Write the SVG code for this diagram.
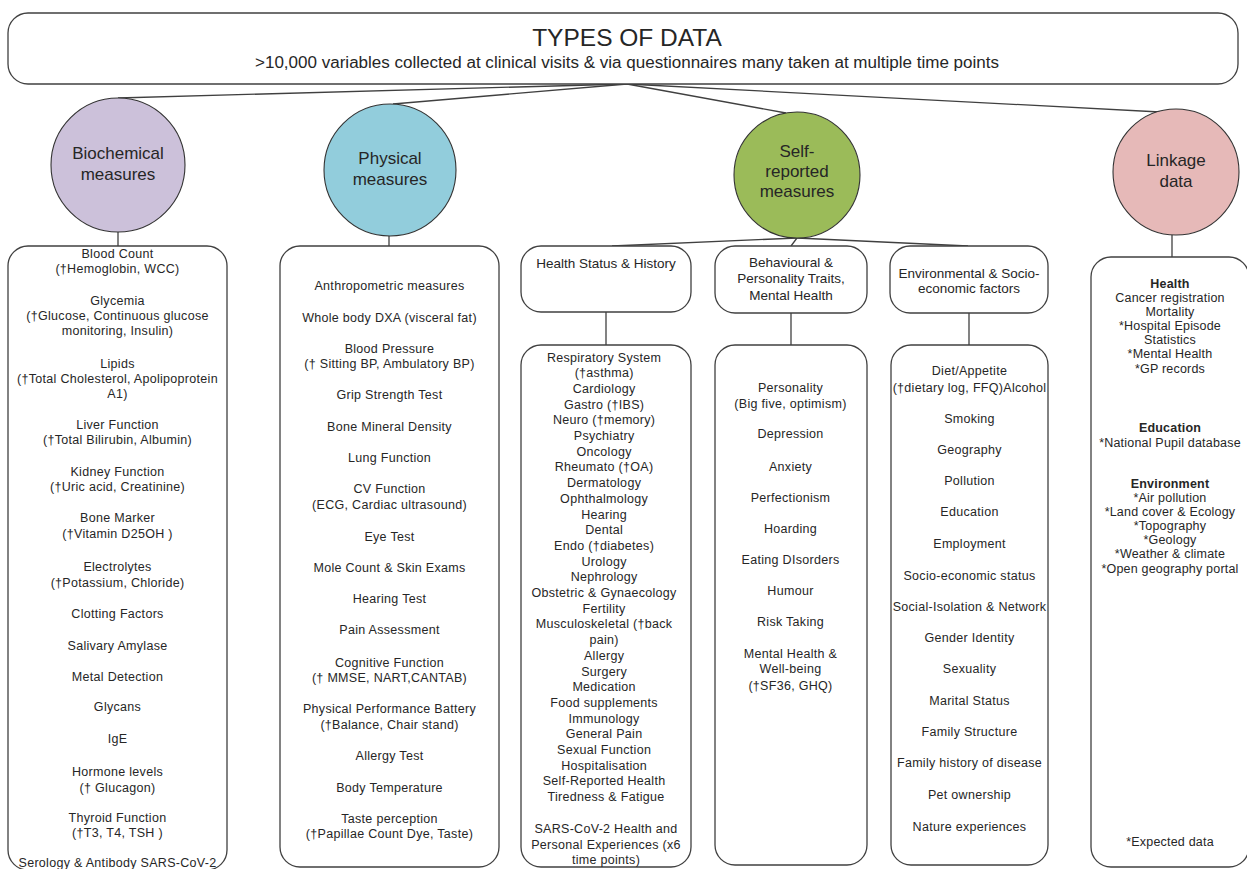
<svg xmlns="http://www.w3.org/2000/svg" width="1247" height="869" viewBox="0 0 1247 869">
<style>
text{font-family:"Liberation Sans",Arial,sans-serif;fill:#262626;text-anchor:middle}
.box{fill:#fff;stroke:#404040;stroke-width:1.3}
.circ{stroke:#333;stroke-width:1.1}
.con line{stroke:#404040;stroke-width:1.3}
.it{font-size:12.5px;letter-spacing:0.3px}
.lk{font-size:12.5px;letter-spacing:0.2px}
.cl{font-size:17px}
.sb{font-size:13.5px}
.b{font-weight:bold}
</style>
<rect width="1247" height="869" fill="#fff"/>
<g class="con" id="connectors">
<line x1="627" y1="84" x2="118" y2="98"/>
<line x1="627" y1="84" x2="393" y2="104"/>
<line x1="627" y1="84" x2="786" y2="113"/>
<line x1="627" y1="84" x2="1160" y2="112"/>
<line x1="118" y1="232" x2="118" y2="246"/>
<line x1="389" y1="236" x2="389" y2="246"/>
<line x1="1172" y1="235" x2="1172" y2="257"/>
<line x1="797" y1="238" x2="612" y2="246"/>
<line x1="797" y1="238" x2="791" y2="246"/>
<line x1="797" y1="238" x2="968" y2="246"/>
<line x1="606" y1="312" x2="606" y2="345"/>
<line x1="791" y1="313" x2="791" y2="345"/>
<line x1="969" y1="313" x2="969" y2="345"/>
</g>
<g id="top">
<rect class="box" x="8" y="13" width="1230" height="71" rx="20"/>
<text x="627" y="46" font-size="24.5">TYPES OF DATA</text>
<text x="627" y="68" font-size="16" textLength="744" lengthAdjust="spacingAndGlyphs">&gt;10,000 variables collected at clinical visits &amp; via questionnaires many taken at multiple time points</text>
</g>
<g id="biochemical">
<ellipse class="circ" cx="118" cy="165" rx="67" ry="67" fill="#CCC1DA"/>
<text class="cl" x="118" y="159">Biochemical</text>
<text class="cl" x="118" y="180">measures</text>
</g>
<g id="physical">
<ellipse class="circ" cx="390" cy="170" rx="66" ry="66" fill="#92CDDC"/>
<text class="cl" x="390" y="164">Physical</text>
<text class="cl" x="390" y="185">measures</text>
</g>
<g id="selfreported">
<ellipse class="circ" cx="797" cy="175" rx="63" ry="63" fill="#9BBB59"/>
<text class="cl" x="797" y="157">Self-</text>
<text class="cl" x="797" y="177">reported</text>
<text class="cl" x="797" y="197">measures</text>
</g>
<g id="linkage">
<ellipse class="circ" cx="1176" cy="172" rx="63" ry="63" fill="#E6B9B8"/>
<text class="cl" x="1176" y="166">Linkage</text>
<text class="cl" x="1176" y="187">data</text>
</g>
<g id="biochemical-list">
<rect class="box" x="8" y="246" width="219" height="624" rx="20"/>
<text class="it" x="117.5" y="258">Blood Count</text>
<text class="it" x="117.5" y="273">(†Hemoglobin, WCC)</text>
<text class="it" x="117.5" y="305">Glycemia</text>
<text class="it" x="117.5" y="320">(†Glucose, Continuous glucose</text>
<text class="it" x="117.5" y="335">monitoring, Insulin)</text>
<text class="it" x="117.5" y="368">Lipids</text>
<text class="it" x="117.5" y="383">(†Total Cholesterol, Apolipoprotein</text>
<text class="it" x="117.5" y="398">A1)</text>
<text class="it" x="117.5" y="429">Liver Function</text>
<text class="it" x="117.5" y="444">(†Total Bilirubin, Albumin)</text>
<text class="it" x="117.5" y="476">Kidney Function</text>
<text class="it" x="117.5" y="491">(†Uric acid, Creatinine)</text>
<text class="it" x="117.5" y="522">Bone Marker</text>
<text class="it" x="117.5" y="538">(†Vitamin D25OH )</text>
<text class="it" x="117.5" y="571">Electrolytes</text>
<text class="it" x="117.5" y="587">(†Potassium, Chloride)</text>
<text class="it" x="117.5" y="618">Clotting Factors</text>
<text class="it" x="117.5" y="650">Salivary Amylase</text>
<text class="it" x="117.5" y="681">Metal Detection</text>
<text class="it" x="117.5" y="711">Glycans</text>
<text class="it" x="117.5" y="743">IgE</text>
<text class="it" x="117.5" y="776">Hormone levels</text>
<text class="it" x="117.5" y="792">(† Glucagon)</text>
<text class="it" x="117.5" y="822">Thyroid Function</text>
<text class="it" x="117.5" y="837">(†T3, T4, TSH )</text>
<text class="it" x="117.5" y="867">Serology &amp; Antibody SARS-CoV-2</text>
</g>
<g id="physical-list">
<rect class="box" x="280" y="246" width="219" height="621" rx="20"/>
<text class="it" x="389.5" y="289.5">Anthropometric measures</text>
<text class="it" x="389.5" y="321.5">Whole body DXA (visceral fat)</text>
<text class="it" x="389.5" y="352.5">Blood Pressure</text>
<text class="it" x="389.5" y="367.5">(† Sitting BP,  Ambulatory BP)</text>
<text class="it" x="389.5" y="398.5">Grip Strength Test</text>
<text class="it" x="389.5" y="430.5">Bone Mineral Density</text>
<text class="it" x="389.5" y="461.5">Lung Function</text>
<text class="it" x="389.5" y="492.5">CV Function</text>
<text class="it" x="389.5" y="508.5">(ECG, Cardiac ultrasound)</text>
<text class="it" x="389.5" y="540.5">Eye Test</text>
<text class="it" x="389.5" y="571.5">Mole Count &amp; Skin Exams</text>
<text class="it" x="389.5" y="602.5">Hearing Test</text>
<text class="it" x="389.5" y="633.5">Pain Assessment</text>
<text class="it" x="389.5" y="666.5">Cognitive Function</text>
<text class="it" x="389.5" y="681.5">(† MMSE, NART,CANTAB)</text>
<text class="it" x="389.5" y="712.5">Physical Performance Battery</text>
<text class="it" x="389.5" y="728.5">(†Balance, Chair stand)</text>
<text class="it" x="389.5" y="759.5">Allergy Test</text>
<text class="it" x="389.5" y="791.5">Body Temperature</text>
<text class="it" x="389.5" y="822.5">Taste perception</text>
<text class="it" x="389.5" y="837.5">(†Papillae Count Dye, Taste)</text>
</g>
<g id="health-status">
<rect class="box" x="521" y="246" width="170" height="66" rx="20"/>
<text class="sb" x="606" y="268">Health Status &amp; History</text>
</g>
<g id="behavioural">
<rect class="box" x="715" y="246" width="152" height="67" rx="20"/>
<text class="sb" x="791" y="267">Behavioural &amp;</text>
<text class="sb" x="791" y="283">Personality Traits,</text>
<text class="sb" x="791" y="300">Mental Health</text>
</g>
<g id="environmental">
<rect class="box" x="890" y="246" width="158" height="67" rx="20"/>
<text class="sb" x="969" y="278">Environmental &amp; Socio-</text>
<text class="sb" x="969" y="293">economic factors</text>
</g>
<g id="health-list">
<rect class="box" x="521" y="345" width="170" height="522" rx="20"/>
<text class="it" x="606" y="361.5">
<tspan x="606">Respiratory System</tspan>
<tspan x="606" dy="15.7">(†asthma)</tspan>
<tspan x="606" dy="15.7">Cardiology</tspan>
<tspan x="606" dy="15.7">Gastro  (†IBS)</tspan>
<tspan x="606" dy="15.7">Neuro (†memory)</tspan>
<tspan x="606" dy="15.7">Psychiatry</tspan>
<tspan x="606" dy="15.7">Oncology</tspan>
<tspan x="606" dy="15.7">Rheumato (†OA)</tspan>
<tspan x="606" dy="15.7">Dermatology</tspan>
<tspan x="606" dy="15.7">Ophthalmology</tspan>
<tspan x="606" dy="15.7">Hearing</tspan>
<tspan x="606" dy="15.7">Dental</tspan>
<tspan x="606" dy="15.7">Endo (†diabetes)</tspan>
<tspan x="606" dy="15.7">Urology</tspan>
<tspan x="606" dy="15.7">Nephrology</tspan>
<tspan x="606" dy="15.7">Obstetric &amp; Gynaecology</tspan>
<tspan x="606" dy="15.7">Fertility</tspan>
<tspan x="606" dy="15.7">Musculoskeletal (†back</tspan>
<tspan x="606" dy="15.7">pain)</tspan>
<tspan x="606" dy="15.7">Allergy</tspan>
<tspan x="606" dy="15.7">Surgery</tspan>
<tspan x="606" dy="15.7">Medication</tspan>
<tspan x="606" dy="15.7">Food supplements</tspan>
<tspan x="606" dy="15.7">Immunology</tspan>
<tspan x="606" dy="15.7">General Pain</tspan>
<tspan x="606" dy="15.7">Sexual Function</tspan>
<tspan x="606" dy="15.7">Hospitalisation</tspan>
<tspan x="606" dy="15.7">Self-Reported Health</tspan>
<tspan x="606" dy="15.7">Tiredness &amp; Fatigue</tspan>
</text>
<text class="it" x="606" y="832.5">SARS-CoV-2 Health and</text>
<text class="it" x="606" y="848.5">Personal Experiences (x6</text>
<text class="it" x="606" y="863.5">time points)</text>
</g>
<g id="behavioural-list">
<rect class="box" x="715" y="345" width="152" height="520" rx="20"/>
<text class="it" x="790.5" y="391.5">Personality</text>
<text class="it" x="790.5" y="407.5">(Big five, optimism)</text>
<text class="it" x="790.5" y="437.5">Depression</text>
<text class="it" x="790.5" y="470.5">Anxiety</text>
<text class="it" x="790.5" y="501.5">Perfectionism</text>
<text class="it" x="790.5" y="532.5">Hoarding</text>
<text class="it" x="790.5" y="563.5">Eating DIsorders</text>
<text class="it" x="790.5" y="594.5">Humour</text>
<text class="it" x="790.5" y="625.5">Risk Taking</text>
<text class="it" x="790.5" y="657.5">Mental Health &amp;</text>
<text class="it" x="790.5" y="673">Well-being</text>
<text class="it" x="790.5" y="690">(†SF36, GHQ)</text>
</g>
<g id="environmental-list">
<rect class="box" x="891" y="345" width="157" height="520" rx="20"/>
<text class="it" x="969.5" y="374.5">Diet/Appetite</text>
<text class="it" x="969.5" y="391.5">(†dietary log, FFQ)Alcohol</text>
<text class="it" x="969.5" y="422.5">Smoking</text>
<text class="it" x="969.5" y="453.5">Geography</text>
<text class="it" x="969.5" y="484.5">Pollution</text>
<text class="it" x="969.5" y="515.5">Education</text>
<text class="it" x="969.5" y="547.5">Employment</text>
<text class="it" x="969.5" y="579.5">Socio-economic status</text>
<text class="it" x="969.5" y="610.5">Social-Isolation &amp; Network</text>
<text class="it" x="969.5" y="641.5">Gender Identity</text>
<text class="it" x="969.5" y="672.5">Sexuality</text>
<text class="it" x="969.5" y="704.5">Marital Status</text>
<text class="it" x="969.5" y="735.5">Family Structure</text>
<text class="it" x="969.5" y="766.5">Family history of disease</text>
<text class="it" x="969.5" y="798.5">Pet ownership</text>
<text class="it" x="969.5" y="830.5">Nature experiences</text>
</g>
<g id="linkage-list">
<rect class="box" x="1091" y="257" width="158" height="610" rx="20"/>
<text class="lk b" x="1170" y="287.5">Health</text>
<text class="lk" x="1170" y="301.5">Cancer registration</text>
<text class="lk" x="1170" y="315.5">Mortality</text>
<text class="lk" x="1170" y="329.5">*Hospital Episode</text>
<text class="lk" x="1170" y="343.5">Statistics</text>
<text class="lk" x="1170" y="357.5">*Mental Health</text>
<text class="lk" x="1170" y="372.5">*GP records</text>
<text class="lk b" x="1170" y="431.5">Education</text>
<text class="lk" x="1170" y="446.5">*National Pupil database</text>
<text class="lk b" x="1170" y="487.5">Environment</text>
<text class="lk" x="1170" y="501.5">*Air pollution</text>
<text class="lk" x="1170" y="515.5">*Land cover &amp; Ecology</text>
<text class="lk" x="1170" y="529.5">*Topography</text>
<text class="lk" x="1170" y="543.5">*Geology</text>
<text class="lk" x="1170" y="557.5">*Weather &amp; climate</text>
<text class="lk" x="1170" y="572.5">*Open geography portal</text>
<text class="lk" x="1170" y="845.5">*Expected data</text>
</g>
</svg>
